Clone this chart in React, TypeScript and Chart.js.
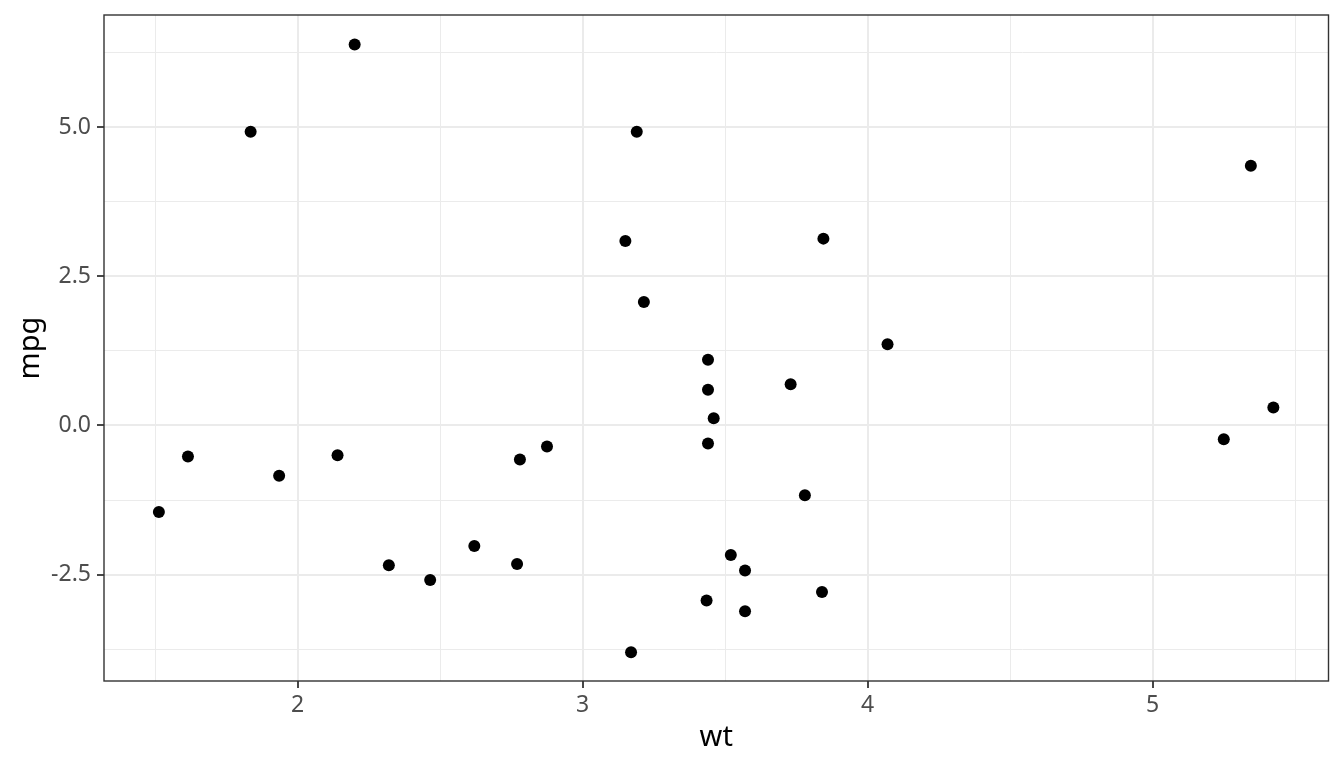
import React, { useEffect, useRef } from "react";
import { Chart, registerables } from "chart.js";

Chart.register(...registerables);

// Data
const wt = [
  1.513, 1.615, 1.835, 1.935, 2.14, 2.2, 2.32, 2.465, 2.62, 2.77, 2.78, 2.875,
  3.15, 3.17, 3.19, 3.215, 3.435, 3.44, 3.44, 3.44, 3.46, 3.52, 3.57, 3.57,
  3.73, 3.78, 3.84, 3.845, 4.07, 5.25, 5.345, 5.424,
];
const mpg = [
  -1.45, -0.52, 4.92, -0.84, -0.5, 6.38, -2.34, -2.59, -2.02, -2.32, -0.57,
  -0.35, 3.09, -3.8, 4.92, 2.07, -2.93, 1.1, 0.6, -0.3, 0.12, -2.17, -2.43,
  -3.11, 0.69, -1.17, -2.79, 3.13, 1.36, -0.23, 4.35, 0.3,
];

const xMajorTicks = [2, 3, 4, 5];
const xMinorTicks = [1.5, 2.5, 3.5, 4.5, 5.5];
const xTickLabels = ["2", "3", "4", "5"];
const yMajorTicks = [-2.5, 0, 2.5, 5];
const yMinorTicks = [-3.75, -1.25, 1.25, 3.75, 6.25];
const yTickLabels = ["-2.5", "0.0", "2.5", "5.0"];
const xRange = [1.3204, 5.6175];
const yRange = [-4.28, 6.876];
const xTitle = "wt";
const yTitle = "mpg";

const FONT = "'Noto Sans', 'Open Sans', sans-serif";
const GRID = "#EBEBEB";
const DARK = "#333333";
const TICKTEXT = "#4D4D4D";

const panelBorder = {
  id: "panelBorder",
  afterDraw(chart: any) {
    const { ctx, chartArea: a } = chart;
    ctx.save();
    ctx.strokeStyle = DARK;
    ctx.lineWidth = 1.4;
    ctx.strokeRect(a.left, a.top, a.right - a.left, a.bottom - a.top);
    ctx.restore();
  },
};

function makeAxis(
  major: number[],
  minor: number[],
  labels: string[],
  range: number[],
  isX: boolean
) {
  const isMajor = (c: any) => c.tick && major.indexOf(c.tick.value) >= 0;
  return {
    type: "linear" as const,
    position: isX ? ("bottom" as const) : ("left" as const),
    min: range[0],
    max: range[1],
    afterBuildTicks: (s: any) => {
      s.ticks = [...major, ...minor]
        .sort((a, b) => a - b)
        .map((v) => ({ value: v }));
    },
    afterFit: (s: any) => {
      if (isX) s.height = 87;
      else s.width = 104;
      s.paddingTop = 0;
      s.paddingBottom = 0;
      s.paddingLeft = 0;
      s.paddingRight = 0;
    },
    ticks: {
      autoSkip: false,
      maxRotation: 0,
      minRotation: 0,
      color: TICKTEXT,
      font: { family: FONT, size: 23 },
      padding: isX ? 4 : 6,
      callback: (v: any) => {
        const i = major.indexOf(v);
        return i >= 0 ? labels[i] : "";
      },
    },
    grid: {
      drawOnChartArea: true,
      drawTicks: true,
      tickLength: 7,
      color: GRID,
      lineWidth: (c: any) => (isMajor(c) ? 2 : 1),
      tickColor: (c: any) => (isMajor(c) ? DARK : "rgba(0,0,0,0)"),
      tickWidth: 1.8,
    },
    border: { display: false },
    title: {
      display: true,
      text: isX ? xTitle : yTitle,
      color: "#000000",
      font: { family: FONT, size: 29 },
      padding: isX ? { top: 0, bottom: 13 } : { top: 13, bottom: 0 },
    },
  };
}

export default function App() {
  const ref = useRef<HTMLCanvasElement>(null);

  useEffect(() => {
    if (!ref.current) return;
    const chart = new Chart(ref.current, {
      type: "scatter",
      data: {
        datasets: [
          {
            data: wt.map((x, i) => ({ x, y: mpg[i] })),
            backgroundColor: "#000000",
            borderWidth: 0,
            pointRadius: 6,
            pointHoverRadius: 6,
          },
        ],
      },
      options: {
        animation: false,
        responsive: false,
        events: [],
        layout: { padding: { top: 15, right: 15.5, left: 0, bottom: 0 } },
        plugins: {
          legend: { display: false },
          tooltip: { enabled: false },
        },
        scales: {
          x: makeAxis(xMajorTicks, xMinorTicks, xTickLabels, xRange, true),
          y: makeAxis(yMajorTicks, yMinorTicks, yTickLabels, yRange, false),
        },
      },
      plugins: [panelBorder],
    });
    return () => chart.destroy();
  }, []);

  return (
    <div
      style={{
        position: "absolute",
        left: 0,
        top: 0,
        width: 1344,
        height: 768,
        background: "#ffffff",
      }}
    >
      <canvas ref={ref} width={1344} height={768} />
    </div>
  );
}
